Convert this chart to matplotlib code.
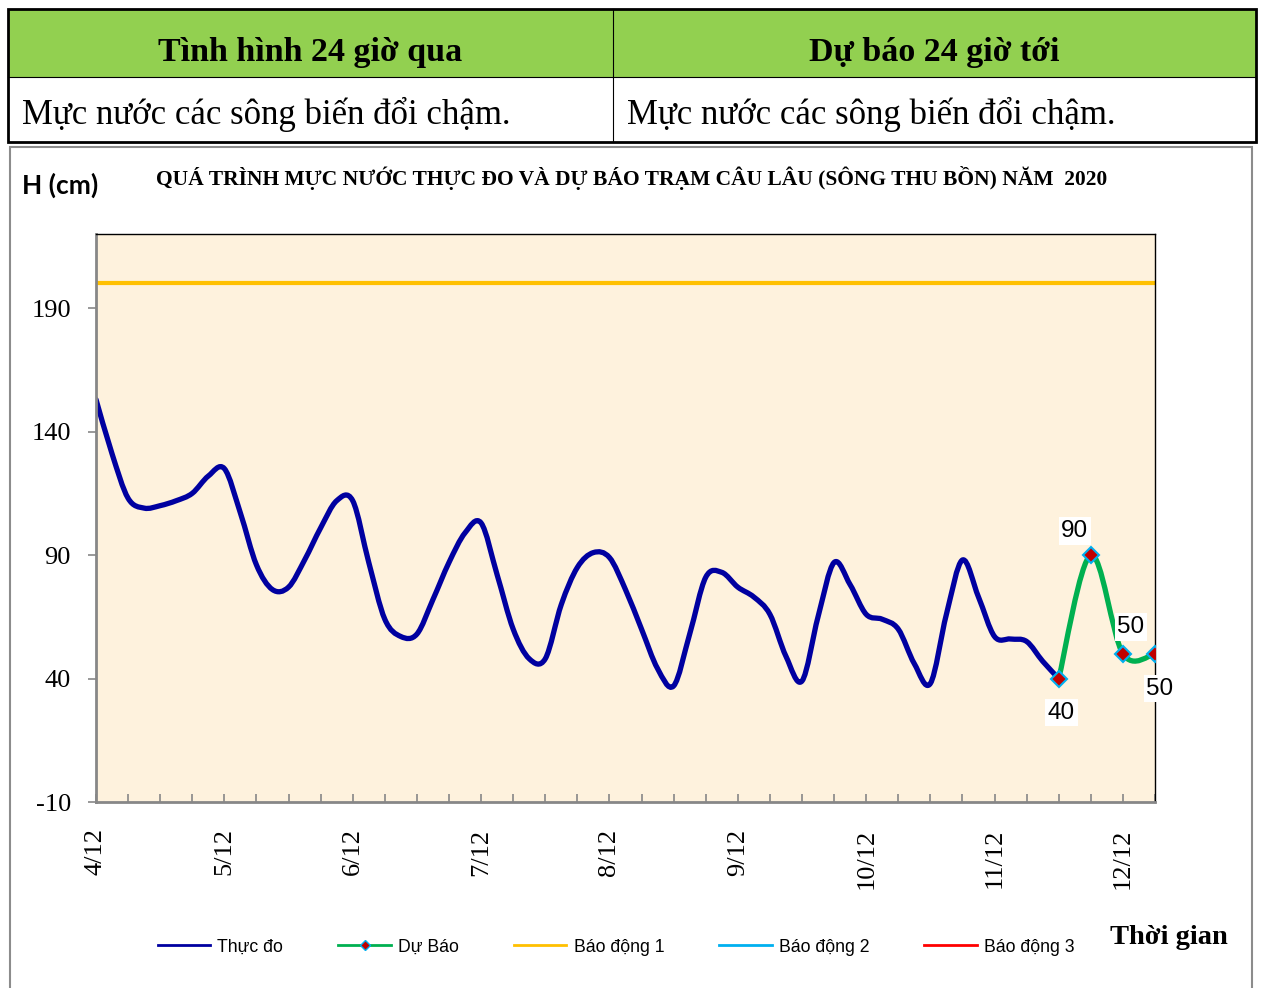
import numpy as np
import matplotlib
matplotlib.use('Agg')
import matplotlib.pyplot as plt
from matplotlib.path import Path
from matplotlib.patches import PathPatch, Rectangle
from matplotlib.lines import Line2D

SERIF = 'Liberation Serif'
SANS = 'Liberation Sans'

# data (hours since 4/12 00h, cm)
obs_hours = list(range(0, 181, 3))
obs_cm = [153, 131, 113, 109, 110, 112, 115, 122, 125,
          107, 86, 76, 77, 88, 101, 112, 112,
          87, 64, 57, 58, 72, 87, 99, 103,
          82, 60, 48, 48, 70, 85, 91, 89,
          76, 60, 44, 37, 58, 81, 83, 77,
          73, 66, 49, 39, 65, 87, 78, 66,
          64, 60, 46, 38, 66, 88, 73, 57,
          56, 55, 47, 40]
fc_hours = [180, 186, 192, 198]
fc_cm = [40, 90, 50, 50]
alarm_cm = [200, 300, 400]
alarm_names = ['Báo động 1', 'Báo động 2', 'Báo động 3']
alarm_colors = ['#FFC000', '#00B0F0', '#FF0000']
day_hours = list(range(0, 193, 24))
day_labels = ['4/12', '5/12', '6/12', '7/12', '8/12', '9/12', '10/12', '11/12', '12/12']
y_ticks = [-10, 40, 90, 140, 190]

W, H = 1261, 988
def fx(x): return x / W
def fy(y): return 1 - y / H


def smooth_path(xs, ys):
    # bezier smoothing like the spreadsheet "smoothed line"
    xs = np.asarray(xs, float); ys = np.asarray(ys, float)
    n = len(xs)
    verts = [(xs[0], ys[0])]
    codes = [Path.MOVETO]
    for i in range(n - 1):
        i0 = max(i - 1, 0); i3 = min(i + 2, n - 1)
        c1 = (xs[i] + (xs[i + 1] - xs[i0]) / 6, ys[i] + (ys[i + 1] - ys[i0]) / 6)
        c2 = (xs[i + 1] - (xs[i3] - xs[i]) / 6, ys[i + 1] - (ys[i3] - ys[i]) / 6)
        verts += [c1, c2, (xs[i + 1], ys[i + 1])]
        codes += [Path.CURVE4] * 3
    return Path(verts, codes)


fig = plt.figure(figsize=(W / 100, H / 100), dpi=100)

# header table
fig.add_artist(Rectangle((fx(8), fy(77)), fx(1256) - fx(8), fy(10) - fy(77),
                         transform=fig.transFigure, fc='#92D050', ec='none'))
fig.add_artist(Line2D([fx(8), fx(1256)], [fy(77), fy(77)], transform=fig.transFigure, color='black', lw=0.8))
fig.add_artist(Line2D([fx(613), fx(613)], [fy(9), fy(142)], transform=fig.transFigure, color='black', lw=0.8))
fig.add_artist(Rectangle((fx(8), fy(142)), fx(1256) - fx(8), fy(9) - fy(142),
                         transform=fig.transFigure, fc='none', ec='black', lw=2))
fig.text(fx(310), fy(53), 'Tình hình 24 giờ qua', family=SERIF, weight='bold', size=24.5, ha='center', va='center')
fig.text(fx(934), fy(53), 'Dự báo 24 giờ tới', family=SERIF, weight='bold', size=24.5, ha='center', va='center')
fig.text(fx(22), fy(114), 'Mực nước các sông biến đổi chậm.', family=SERIF, size=25, ha='left', va='center')
fig.text(fx(627), fy(114), 'Mực nước các sông biến đổi chậm.', family=SERIF, size=25, ha='left', va='center')

# chart frame
fig.add_artist(Rectangle((fx(10), fy(1000)), fx(1252) - fx(10), fy(147) - fy(1000),
                         transform=fig.transFigure, fc='none', ec='#8C8C8C', lw=1.5))
fig.text(fx(22), fy(185), 'H (cm)', family='Lato', weight='bold', size=19, ha='left', va='center')
fig.text(fx(632), fy(178), 'QUÁ TRÌNH MỰC NƯỚC THỰC ĐO VÀ DỰ BÁO TRẠM CÂU LÂU (SÔNG THU BỒN) NĂM  2020',
         family=SERIF, weight='bold', size=15.5, ha='center', va='center')
fig.text(fx(1110), fy(937), 'Thời gian', family=SERIF, weight='bold', size=20.5, ha='left', va='center')

ax = fig.add_axes([fx(96), fy(802), fx(1155) - fx(96), fy(234) - fy(802)])
ax.set_facecolor('#FEF2DD')
ax.set_xlim(0, 198)
ax.set_ylim(-10, 220)

for v, c in zip(alarm_cm, alarm_colors):
    ax.plot([obs_hours[0], fc_hours[-1]], [v, v], color=c, lw=3, solid_capstyle='butt')

ax.add_patch(PathPatch(smooth_path(obs_hours, obs_cm), fc='none', ec='#0000A0', lw=3.8,
                       capstyle='round', joinstyle='round'))
ax.add_patch(PathPatch(smooth_path(fc_hours, fc_cm), fc='none', ec='#00B050', lw=3.8,
                       capstyle='round', joinstyle='round'))
ax.plot(fc_hours, fc_cm, ls='none', marker='D', ms=8, mfc='#C00000', mec='#00B0F0', mew=1.5, zorder=5)

offsets = [(2, -24.5), (-11.5, 17.3), (5.8, 19.4), (3.6, -25.2)]
for x, v, off in zip(fc_hours, fc_cm, offsets):
    ax.annotate(str(v), (x, v), xytext=off, textcoords='offset points', ha='center', va='center',
                family=SANS, size=17.5, annotation_clip=False, zorder=6,
                bbox=dict(fc='white', ec='none', pad=2))

for s in ['left', 'bottom']:
    ax.spines[s].set_color('#878787')
    ax.spines[s].set_linewidth(2)
for s in ['top', 'right']:
    ax.spines[s].set_color('black')
    ax.spines[s].set_linewidth(1)

ax.set_xticks(day_hours)
ax.set_xticklabels(day_labels, rotation=90, family=SERIF, size=19)
ax.set_xticks(list(range(0, 199, 6)), minor=True)
ax.tick_params(axis='x', which='both', direction='in', length=6, width=1.2, color='#878787', pad=19)
ax.set_yticks(y_ticks)
ax.set_yticklabels([str(v) for v in y_ticks], family=SERIF, size=19)
ax.tick_params(axis='y', direction='out', length=6, width=1.2, color='#878787', pad=12)

handles = [Line2D([], [], color='#0000A0', lw=2),
           Line2D([], [], color='#00B050', lw=2, marker='D', ms=5, mfc='#C00000', mec='#00B0F0')]
handles += [Line2D([], [], color=c, lw=2) for c in alarm_colors]
labels = ['Thực đo', 'Dự Báo'] + alarm_names
fig.legend(handles, labels, loc='center', bbox_to_anchor=(fx(616), fy(947)), ncol=5, frameon=False,
           prop={'family': SANS, 'size': 12.7}, handlelength=3.0, handletextpad=0.4, columnspacing=3.1)

fig.savefig('out.png', dpi=100)
